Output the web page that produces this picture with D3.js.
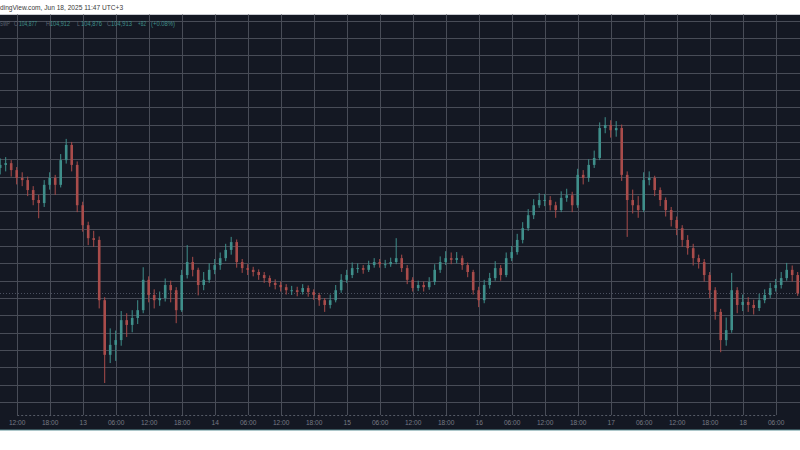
<!DOCTYPE html>
<html><head><meta charset="utf-8">
<script src="https://cdn.jsdelivr.net/npm/d3@7"></script>
<style>html,body{margin:0;padding:0;background:#fff;}svg{display:block;}</style>
</head><body>
<svg id="chart" width="800" height="450"></svg>
<script>
// Hourly candles, Jun 12 09:00 -> Jun 18 10:00 (chart local time)
const startTime = Date.UTC(2025, 5, 12, 9);
const opens = [107800,107870,107910,107750,107570,107520,107290,107060,106990,107410,107570,107410,107980,108330,107870,106940,106480,106180,106140,104750,103490,103720,103830,104290,104180,104340,104520,105220,104870,104750,104800,105100,104980,104520,105330,105630,105450,105100,105220,105450,105560,105720,105910,106090,105630,105490,105450,105400,105330,105260,105150,105100,105050,104980,104980,104940,105030,104940,104870,104750,104640,104750,104980,105220,105330,105490,105490,105450,105560,105630,105580,105580,105630,105720,105490,105220,105030,105100,105050,105170,105450,105630,105720,105680,105720,105560,105400,104980,104750,105100,105260,105490,105330,105720,105860,106140,106410,106710,106940,107060,107060,106940,106830,107110,107170,106940,107640,107570,107870,108030,108720,108790,108670,108720,107640,107060,106940,106830,107520,107570,107290,107060,106830,106600,106410,106140,105950,105720,105630,105330,104980,104480,103830,104060,104980,104640,104710,104640,104570,104750,104870,105030,105100,105260,105450,105330];
const highs = [108020,108050,107980,107820,107700,107600,107380,107180,107520,107700,107640,108120,108470,108400,107950,107020,106560,106350,106220,104820,104100,104050,104500,104450,104520,104750,105510,105300,105000,104950,105250,105200,105050,105450,106020,105750,105500,105400,105600,105700,105850,106050,106210,106150,105700,105580,105520,105460,105400,105320,105230,105180,105120,105080,105060,105120,105090,105000,104920,104800,104880,105100,105350,105450,105620,105600,105560,105660,105720,105700,105680,105730,106180,105800,105560,105280,105200,105180,105280,105580,105760,105880,105850,105860,105780,105620,105450,105060,105220,105380,105650,105560,105850,106000,106280,106550,106850,107080,107220,107200,107150,107020,107260,107320,107250,107780,107750,108000,108200,108850,108970,108900,108880,108800,107720,107300,107150,107700,107720,107620,107350,107120,106900,106680,106480,106250,106050,105800,105700,105400,105050,104550,104350,105380,105050,104880,104820,104760,104900,105000,105150,105240,105400,105610,105550,105400];
const lows = [107650,107720,107600,107420,107380,107150,106940,106640,106900,107300,107180,107350,107900,107720,106780,106330,106020,105980,104560,102840,103300,103350,103700,103900,104010,104200,104450,104700,104560,104620,104720,104700,104220,104480,105250,105300,104860,104980,105150,105350,105450,105650,105800,105500,105380,105330,105300,105220,105150,105060,105000,104950,104880,104870,104840,104880,104830,104760,104620,104480,104560,104700,104920,105150,105260,105380,105360,105400,105500,105500,105490,105520,105580,105400,105120,104950,104960,104950,104990,105100,105380,105560,105580,105600,105450,105280,104880,104590,104680,105020,105200,105200,105280,105650,105800,106060,106350,106620,106880,106920,106820,106650,106780,107020,106780,106880,107420,107480,107800,107980,108600,108500,108520,107500,106210,106750,106650,106780,107400,107150,106920,106680,106450,106250,105980,105800,105550,105480,105180,104800,104300,103550,103700,104000,104450,104500,104480,104420,104500,104680,104800,104950,105020,105200,105180,104850];
const closes = [107870,107910,107750,107570,107520,107290,107060,106990,107410,107570,107410,107980,108330,107870,106940,106480,106180,106140,104750,103490,103720,103830,104290,104180,104340,104520,105220,104870,104750,104800,105100,104980,104520,105330,105630,105450,105100,105220,105450,105560,105720,105910,106090,105630,105490,105450,105400,105330,105260,105150,105100,105050,104980,104980,104940,105030,104940,104870,104750,104640,104750,104980,105220,105330,105490,105490,105450,105560,105630,105580,105580,105630,105720,105490,105220,105030,105100,105050,105170,105450,105630,105720,105680,105720,105560,105400,104980,104750,105100,105260,105490,105330,105720,105860,106140,106410,106710,106940,107060,107060,106940,106830,107110,107170,106940,107640,107570,107870,108030,108720,108790,108670,108720,107640,107060,106940,106830,107520,107570,107290,107060,106830,106600,106410,106140,105950,105720,105630,105330,104980,104480,103830,104060,104980,104640,104710,104640,104570,104750,104870,105030,105100,105260,105450,105330,104910];
const lastPrice = 104913;
const legendParts = [
  {t:"SWP", c:"#5f6473", x:0, w:10},{t:"O", c:"#5f6473", x:14, w:4},{t:"104,877", c:"#3f8f8a", x:19, w:18},
  {t:"H", c:"#5f6473", x:46, w:4},{t:"104,912", c:"#3f8f8a", x:50, w:20},
  {t:"L", c:"#5f6473", x:77, w:3},{t:"104,876", c:"#3f8f8a", x:81, w:21},
  {t:"C", c:"#5f6473", x:107, w:4},{t:"104,913", c:"#3f8f8a", x:111, w:21},
  {t:"+82", c:"#3f8f8a", x:138, w:8},{t:"(+0.08%)", c:"#3f8f8a", x:151, w:24}
];
const headerText = "dingView.com, Jun 18, 2025 11:47 UTC+3";

const times = opens.map((_, i) => d3.utcHour.offset(new Date(startTime), i));
const candles = times.map((t, i) => ({t, o: opens[i], h: highs[i], l: lows[i], c: closes[i]}));

const svg = d3.select("#chart");
const plotTop = 14.5, plotBottom = 430, axisY = 415;

const x = d3.scaleUtc()
  .domain([new Date(Date.UTC(2025,5,12,12)), new Date(Date.UTC(2025,5,18,6))])
  .range([16.7, 775.7]);
const y = d3.scaleLinear().domain([102400, 111200]).range([402.1, 20.5]);

svg.append("rect").attr("width", 800).attr("height", 450).attr("fill", "#ffffff");
svg.append("rect").attr("x", 0).attr("y", plotTop).attr("width", 800).attr("height", plotBottom - plotTop).attr("fill", "#141823");
svg.append("line").attr("x1",0).attr("x2",800).attr("y1",plotTop).attr("y2",plotTop).attr("stroke","#c8cad0").attr("stroke-width",1);
svg.append("line").attr("x1",0).attr("x2",800).attr("y1",plotBottom).attr("y2",plotBottom).attr("stroke","#5d8f95").attr("stroke-width",1);

svg.append("text").attr("x", 0).attr("y", 9.5).attr("font-family", "Liberation Sans, Arial, sans-serif")
  .attr("font-size", 6.6).attr("fill", "#3a3a3a").text(headerText);

// grid
const g = svg.append("g");
const priceTicks = d3.range(102400, 111201, 400);
g.selectAll("line.h").data(priceTicks).join("line")
  .attr("x1", 0).attr("x2", 800)
  .attr("y1", d => Math.round(y(d)) + 0.5).attr("y2", d => Math.round(y(d)) + 0.5)
  .attr("stroke", "#484c57").attr("stroke-width", 1);
const timeTicks = x.ticks(d3.utcHour.every(6));
g.selectAll("line.v").data(timeTicks).join("line")
  .attr("x1", d => Math.round(x(d)) + 0.5).attr("x2", d => Math.round(x(d)) + 0.5)
  .attr("y1", plotTop).attr("y2", axisY)
  .attr("stroke", "#484c57").attr("stroke-width", 1);

// axis
const fmt = d => d.getUTCHours() === 0 ? d3.utcFormat("%-d")(d) : d3.utcFormat("%H:%M")(d);
const axis = svg.append("g").attr("transform", `translate(0,${axisY})`)
  .call(d3.axisBottom(x).ticks(d3.utcHour.every(6)).tickFormat(fmt).tickSize(0).tickPadding(5));
axis.select(".domain").attr("stroke", "#555a66").attr("stroke-dasharray", "2,2");
axis.selectAll("text").attr("fill", "#767a85").attr("font-family", "Liberation Sans, Arial, sans-serif").attr("font-size", 6.6);

// last price dotted line
svg.append("line").attr("x1", 0).attr("x2", 800)
  .attr("y1", Math.round(y(lastPrice)) + 0.5).attr("y2", Math.round(y(lastPrice)) + 0.5)
  .attr("stroke", "#4a5060").attr("stroke-dasharray", "1,2");

// candles
const up = "#3f8f8b", down = "#a94c4b";
const cg = svg.append("g");
cg.selectAll("line.w").data(candles).join("line")
  .attr("x1", d => x(d.t)).attr("x2", d => x(d.t))
  .attr("y1", d => y(d.h)).attr("y2", d => y(d.l))
  .attr("stroke", d => d.c >= d.o ? up : down).attr("stroke-width", 1);
const bw = 2.6;
cg.selectAll("rect.b").data(candles).join("rect")
  .attr("x", d => x(d.t) - bw / 2).attr("width", bw)
  .attr("y", d => y(Math.max(d.o, d.c)))
  .attr("height", d => Math.max(1, Math.abs(y(d.o) - y(d.c))))
  .attr("fill", d => d.c >= d.o ? up : down);

// legend
const lg = svg.append("g").attr("font-family", "Liberation Sans, Arial, sans-serif").attr("font-size", 6.8);
lg.selectAll("text").data(legendParts).join("text")
  .attr("x", d => d.x).attr("y", 25.8).attr("fill", d => d.c)
  .attr("textLength", d => d.w).attr("lengthAdjust", "spacingAndGlyphs").text(d => d.t);
</script>
</body></html>
